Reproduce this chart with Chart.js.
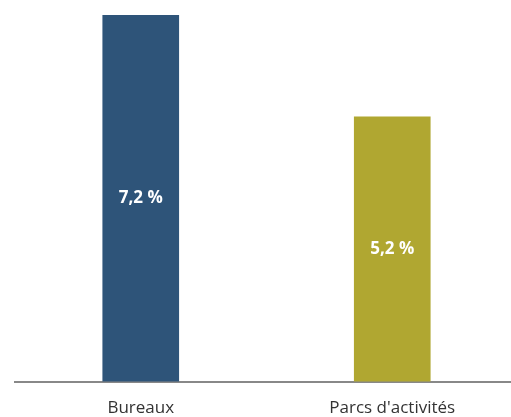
<!DOCTYPE html>
<html>
<head>
<meta charset="utf-8">
<script src="https://cdn.jsdelivr.net/npm/chart.js@4"></script>
<style>
  html, body { margin: 0; padding: 0; background: #fff; overflow: hidden; }
  #wrap { width: 525px; height: 417px; }
</style>
</head>
<body>
<div id="wrap"><canvas id="rateChart"></canvas></div>
<script>
const categories = ['Bureaux', "Parcs d'activités"];
const rates = [7.2, 5.2];
const barColors = ['#2E5479', '#B0A731'];

// writes the value in the middle of each bar, French decimal comma
const valueLabels = {
    id: 'valueLabels',
    afterDatasetsDraw(chart) {
        const ctx = chart.ctx;
        const meta = chart.getDatasetMeta(0);
        ctx.save();
        ctx.font = 'bold 17px "Open Sans"';
        ctx.fillStyle = '#fff';
        ctx.textAlign = 'center';
        ctx.textBaseline = 'middle';
        meta.data.forEach((bar, i) => {
            const txt = rates[i].toFixed(1).replace('.', ',') + ' %';
            ctx.fillText(txt, bar.x, (bar.y + bar.base) / 2);
        });
        ctx.restore();
    }
};

document.addEventListener("DOMContentLoaded", function () {
    const ctx = document.getElementById('rateChart').getContext('2d');
    new Chart(ctx, {
        type: 'bar',
        data: {
            labels: categories,
            datasets: [{
                data: rates,
                backgroundColor: barColors,
                borderWidth: 0,
                barThickness: 76
            }]
        },
        options: {
            responsive: true,
            maintainAspectRatio: false,
            animation: false,
            layout: { padding: { top: 15, left: 15, right: 7, bottom: -17 } },
            plugins: {
                legend: { display: false },
                tooltip: { enabled: false }
            },
            scales: {
                x: {
                    grid: { display: false, drawTicks: false },
                    border: { display: true, color: '#888', width: 2 },
                    ticks: {
                        color: '#333',
                        padding: 16,
                        font: { family: '"Open Sans"', size: 17 }
                    }
                },
                y: {
                    display: false,
                    min: 0,
                    max: 7.2
                }
            }
        },
        plugins: [valueLabels]
    });
});
</script>
</body>
</html>
